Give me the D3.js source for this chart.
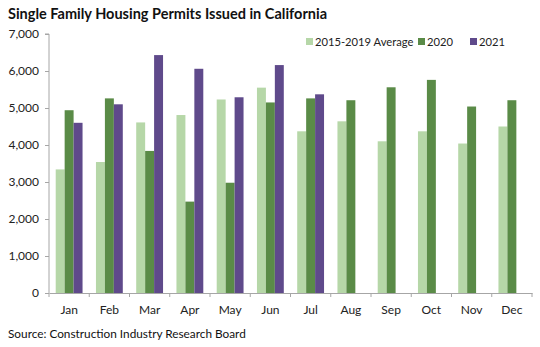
<!DOCTYPE html>
<html>
<head>
<meta charset="utf-8">
<script src="https://cdn.jsdelivr.net/npm/d3@7"></script>
<style>
  body { margin: 0; background: #fff; }
  svg { display: block; font-family: Lato, "Open Sans", sans-serif; }
</style>
</head>
<body>
<svg id="chart" width="540" height="347"></svg>
<script>
const months = ["Jan","Feb","Mar","Apr","May","Jun","Jul","Aug","Sep","Oct","Nov","Dec"];
const seriesNames = ["2015-2019 Average","2020","2021"];
const avg2015_2019 = [3340,3540,4610,4810,5230,5550,4370,4640,4100,4370,4040,4500];
const y2020 = [4940,5260,3840,2470,2980,5150,5260,5210,5560,5760,5040,5210];
const y2021 = [4600,5100,6430,6060,5290,6160,5370,null,null,null,null,null];
const yTicks = [0,1000,2000,3000,4000,5000,6000,7000];
const colors = ["#b6d7a8","#5a8b47","#5f4a8b"];

const svg = d3.select("#chart");
const x0 = 49, x1 = 532, yTop = 34, yBot = 293;

const x = d3.scaleBand().domain(months).range([x0, x1]).paddingInner(0).paddingOuter(0);
const xs = d3.scaleBand().domain(seriesNames).range([0, x.bandwidth()]).paddingInner(0).paddingOuter(0.75);
const y = d3.scaleLinear().domain([0, 7000]).range([yBot, yTop]);

const all = [avg2015_2019, y2020, y2021];
const data = months.map((m, i) => ({m, vals: seriesNames.map((s, k) => ({s, k, v: all[k][i]}))}));

// title
svg.append("text").attr("x", 8).attr("y", 19)
  .attr("font-weight", "bold").attr("font-size", 14.5).attr("fill", "#111")
  .text("Single Family Housing Permits Issued in California");

// bars
const g = svg.append("g");
g.selectAll("g.month").data(data).join("g")
  .attr("transform", d => `translate(${x(d.m)},0)`)
  .selectAll("rect").data(d => d.vals.filter(v => v.v != null)).join("rect")
  .attr("x", d => xs(d.s))
  .attr("width", xs.bandwidth())
  .attr("y", d => y(d.v))
  .attr("height", d => y(0) - y(d.v))
  .attr("fill", d => colors[d.k]);

// y axis
const yAxis = d3.axisLeft(y).tickValues(yTicks).tickFormat(d3.format(",")).tickSize(4).tickPadding(6);
const ya = svg.append("g").attr("transform", `translate(${x0},0)`).call(yAxis);
ya.select(".domain").attr("stroke", "#a6a6a6").attr("d", `M-4,${yTop}H0V${yBot}`);
ya.selectAll(".tick line").attr("stroke", "#a6a6a6");
ya.selectAll(".tick text").attr("font-size", 12).attr("fill", "#222").attr("font-family", "Lato, sans-serif");

// x axis
const xAxis = d3.axisBottom(x).tickSize(0).tickPadding(12);
const xa = svg.append("g").attr("transform", `translate(0,${yBot})`).call(xAxis);
xa.select(".domain").attr("stroke", "#a6a6a6");
xa.selectAll(".tick text").attr("font-size", 12).attr("fill", "#222").attr("font-family", "Lato, sans-serif");
xa.append("g").selectAll("line").data(months.concat(["end"])).join("line")
  .attr("x1", (d, i) => i < 12 ? x(d) : x1).attr("x2", (d, i) => i < 12 ? x(d) : x1)
  .attr("y1", 0).attr("y2", 4).attr("stroke", "#a6a6a6");

// legend
const legendX = [306, 418, 470];
const lg = svg.append("g");
seriesNames.forEach((s, k) => {
  lg.append("rect").attr("x", legendX[k]).attr("y", 38).attr("width", 7).attr("height", 7).attr("fill", colors[k]);
  lg.append("text").attr("x", legendX[k] + 9).attr("y", 46).attr("font-size", 11.2).attr("fill", "#222").text(s);
});

// source
svg.append("text").attr("x", 8).attr("y", 338).attr("font-size", 11.8).attr("fill", "#111")
  .text("Source: Construction Industry Research Board");
</script>
</body>
</html>
